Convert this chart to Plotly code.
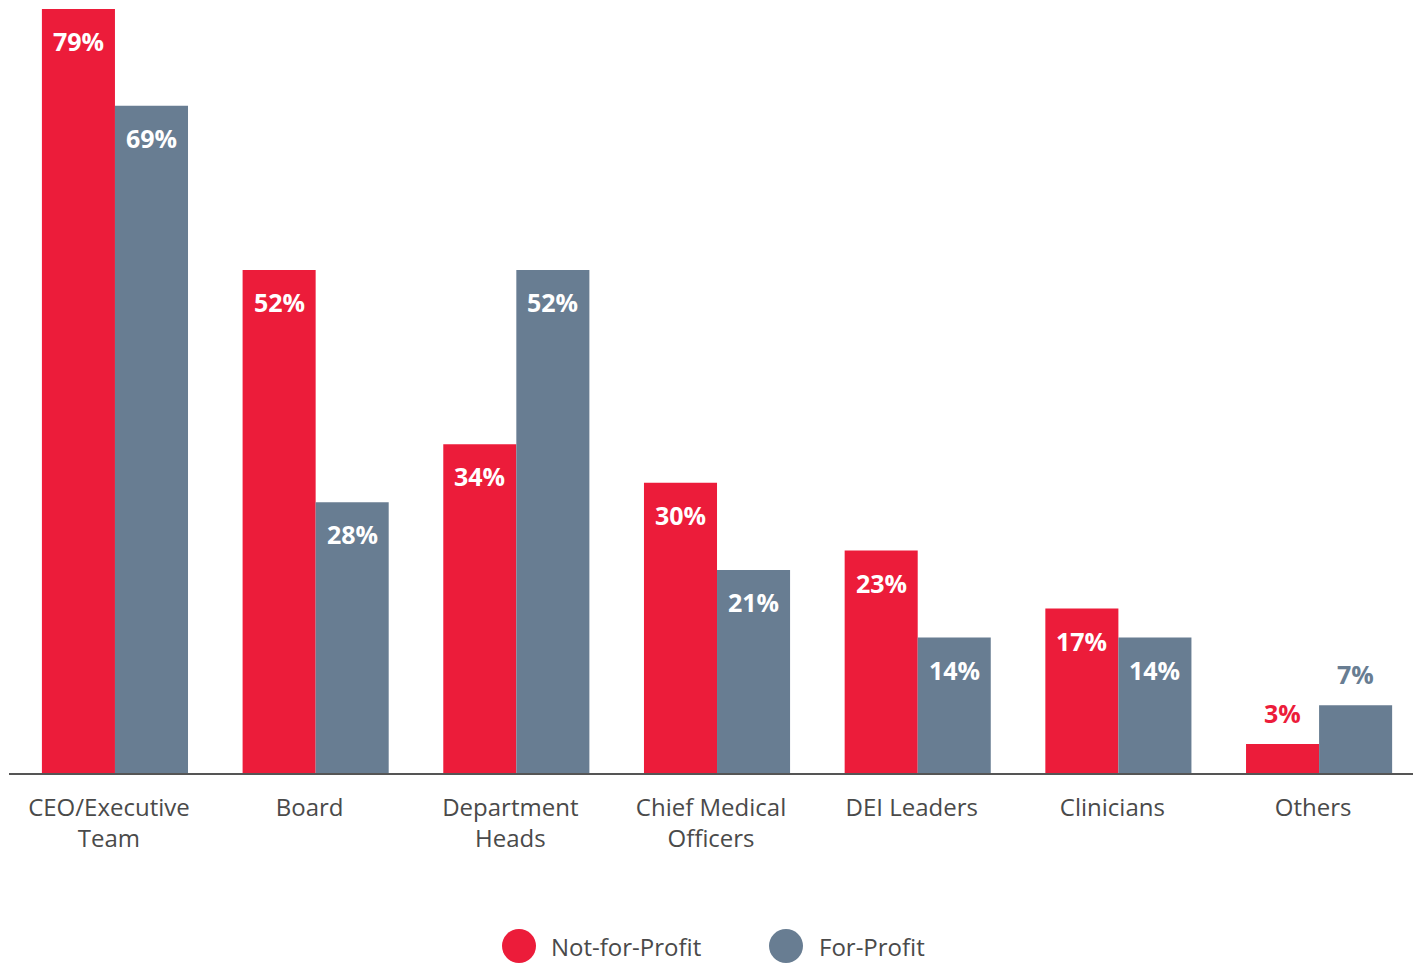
import plotly.graph_objects as go

categories = ["CEO/Executive<br>Team", "Board", "Department<br>Heads", "Chief Medical<br>Officers",
              "DEI Leaders", "Clinicians", "Others"]
not_for_profit = [79, 52, 34, 30, 23, 17, 3]
for_profit = [69, 28, 52, 21, 14, 14, 7]
series_names = ["Not-for-Profit", "For-Profit"]

RED = "#EC1C3A"
GRAY = "#687D92"
TEXT = "#4a4a4a"
FONT = "Open Sans"

W, H = 1423, 963
ML, MR, MT, MB = 9, 10, 9, 190
plot_w = W - ML - MR
plot_h = H - MT - MB

fig = go.Figure()
fig.add_trace(go.Bar(x=categories, y=not_for_profit, name=series_names[0], marker_color=RED,
                     marker_line_width=0, showlegend=False))
fig.add_trace(go.Bar(x=categories, y=for_profit, name=series_names[1], marker_color=GRAY,
                     marker_line_width=0, showlegend=False))

annotations = []
for vals, color, xs in [(not_for_profit, RED, -36.5), (for_profit, GRAY, 36.5)]:
    for c, v in zip(categories, vals):
        inside = v >= 10
        annotations.append(dict(
            x=c, y=v, xref="x", yref="y", text=f"{v}%", showarrow=False,
            xshift=xs, yshift=-32 if inside else 31, yanchor="middle",
            font=dict(family=FONT, size=25, color="white" if inside else color, weight="bold"),
        ))

shapes = []
def py_to_paper(py):
    return (MT + plot_h - py) / plot_h
def px_to_paper(px):
    return (px - ML) / plot_w

for cx, color, tx, label in [(519, RED, 549, series_names[0]), (786, GRAY, 817, series_names[1])]:
    shapes.append(dict(type="circle", xref="paper", yref="paper",
                       xsizemode="pixel", ysizemode="pixel",
                       xanchor=px_to_paper(cx), yanchor=py_to_paper(946),
                       x0=-17, x1=17, y0=-17, y1=17,
                       fillcolor=color, line_width=0))
    annotations.append(dict(x=px_to_paper(tx), y=py_to_paper(946), xref="paper", yref="paper",
                            text=label, showarrow=False, xanchor="left", yanchor="middle",
                            font=dict(family=FONT, size=24, color=TEXT)))

fig.update_layout(
    width=W, height=H,
    margin=dict(l=ML, r=MR, t=MT, b=MB, pad=0),
    paper_bgcolor="white", plot_bgcolor="white",
    barmode="group", bargap=0.272, bargroupgap=0,
    font=dict(family=FONT, color=TEXT),
    annotations=annotations, shapes=shapes,
    xaxis=dict(type="category", range=[-0.528, 6.468], showgrid=False, zeroline=False,
               showline=True, linecolor="#555555", linewidth=1.5, ticks="",
               ticklabelstandoff=12, ticklabelshift=-6,
               tickfont=dict(family=FONT, size=24, color=TEXT), fixedrange=True),
    yaxis=dict(range=[0, 79], visible=False, showgrid=False, zeroline=False, fixedrange=True),
)

fig.write_html("out.html")
